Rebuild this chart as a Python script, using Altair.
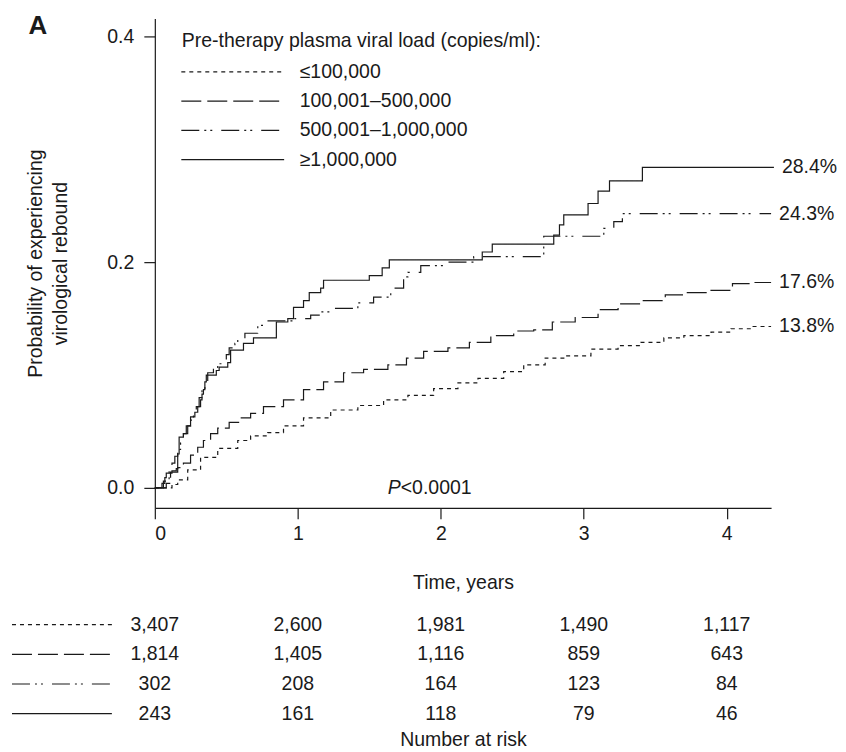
import altair as alt
import pandas as pd

# ---------------- data ----------------
groups = ["≤100,000", "100,001–500,000", "500,001–1,000,000", "≥1,000,000"]
dash_patterns = [[4, 4], [20, 6], [18, 5, 2, 4, 2, 9], [1, 0]]

t_le100k = [0, 0.12, 0.16, 0.23, 0.32, 0.44, 0.58, 0.67, 0.79, 0.90, 1.04, 1.23, 1.42, 1.60, 1.77,
            1.95, 2.12, 2.26, 2.44, 2.58, 2.73, 2.87, 3.05, 3.24, 3.40, 3.56, 3.70, 3.89, 4.03, 4.17, 4.31]
p_le100k = [0, 0.003, 0.007, 0.016, 0.027, 0.035, 0.042, 0.046, 0.049, 0.055, 0.062, 0.069, 0.073, 0.078, 0.082,
            0.088, 0.093, 0.097, 0.103, 0.109, 0.115, 0.117, 0.123, 0.126, 0.129, 0.133, 0.135, 0.138, 0.141, 0.143, 0.143]

t_100_500 = [0, 0.08, 0.11, 0.16, 0.20, 0.25, 0.30, 0.34, 0.39, 0.44, 0.52, 0.60, 0.67, 0.76, 0.90, 1.04,
             1.18, 1.32, 1.46, 1.63, 1.76, 1.88, 2.05, 2.20, 2.35, 2.51, 2.65, 2.78, 2.94, 3.10, 3.24,
             3.40, 3.57, 3.70, 3.87, 4.04, 4.18, 4.31]
p_100_500 = [0, 0.004, 0.014, 0.018, 0.022, 0.029, 0.036, 0.042, 0.048, 0.053, 0.058, 0.062, 0.066, 0.072, 0.078, 0.087,
             0.094, 0.102, 0.105, 0.109, 0.115, 0.121, 0.124, 0.129, 0.135, 0.139, 0.140, 0.147, 0.151, 0.158, 0.163,
             0.166, 0.171, 0.173, 0.175, 0.181, 0.182, 0.182]

t_500_1m = [0, 0.06, 0.10, 0.12, 0.14, 0.16, 0.18, 0.20, 0.22, 0.25, 0.27, 0.29, 0.31, 0.33, 0.35, 0.37,
            0.41, 0.44, 0.50, 0.52, 0.56, 0.58, 0.63, 0.72, 0.78, 0.98, 1.09, 1.16, 1.25, 1.42, 1.53,
            1.65, 1.74, 1.77, 1.86, 2.02, 2.23, 2.72, 3.14, 3.21, 3.27, 4.31]
p_500_1m = [0, 0.006, 0.015, 0.022, 0.028, 0.034, 0.040, 0.048, 0.055, 0.060, 0.065, 0.072, 0.080, 0.086, 0.092, 0.102,
            0.106, 0.110, 0.118, 0.124, 0.128, 0.131, 0.137, 0.144, 0.148, 0.150, 0.153, 0.156, 0.159, 0.164, 0.169,
            0.177, 0.187, 0.191, 0.197, 0.200, 0.205, 0.223, 0.230, 0.236, 0.243, 0.243]

t_ge1m = [0, 0.05, 0.07, 0.08, 0.12, 0.15, 0.16, 0.17, 0.20, 0.23, 0.25, 0.28, 0.30, 0.32, 0.33, 0.34, 0.35,
          0.36, 0.43, 0.45, 0.51, 0.53, 0.62, 0.69, 0.85, 0.93, 0.97, 1.04, 1.08, 1.16, 1.18, 1.50, 1.59,
          1.64, 2.29, 2.36, 2.79, 2.83, 2.86, 3.03, 3.10, 3.18, 3.41, 4.33]
p_ge1m = [0, 0.004, 0.009, 0.013, 0.015, 0.017, 0.030, 0.045, 0.048, 0.055, 0.063, 0.067, 0.072, 0.078, 0.083, 0.087, 0.094,
          0.100, 0.104, 0.107, 0.111, 0.122, 0.128, 0.133, 0.147, 0.150, 0.160, 0.166, 0.173, 0.177, 0.184, 0.188, 0.195,
          0.202, 0.209, 0.216, 0.224, 0.233, 0.242, 0.252, 0.263, 0.272, 0.284, 0.284]

end_labels = ["13.8%", "17.6%", "24.3%", "28.4%"]

risk_times = [0, 1, 2, 3, 4]
risk_le100k = [3407, 2600, 1981, 1490, 1117]
risk_100_500 = [1814, 1405, 1116, 859, 643]
risk_500_1m = [302, 208, 164, 123, 84]
risk_ge1m = [243, 161, 118, 79, 46]

p_value_pos = [1.72, 0.0]   # (time, probability) where the P-value annotation sits
x_ticks = [0, 1, 2, 3, 4]
y_ticks = [0.0, 0.2, 0.4]
x_domain = [0, 4.31]
y_domain = [-0.0177, 0.416]

# ---------------- tables ----------------
series = [(t_le100k, p_le100k), (t_100_500, p_100_500), (t_500_1m, p_500_1m), (t_ge1m, p_ge1m)]
rows = []
for g, (ts, ps) in zip(groups, series):
    for t, p in zip(ts, ps):
        rows.append({"group": g, "t": t, "p": p})
curves = pd.DataFrame(rows)

ends = pd.DataFrame([{"group": g, "t": ts[-1], "p": ps[-1], "label": lab}
                     for g, (ts, ps), lab in zip(groups, series, end_labels)])

risk_rows = []
for g, ns in zip(groups, [risk_le100k, risk_100_500, risk_500_1m, risk_ge1m]):
    for t, n in zip(risk_times, ns):
        risk_rows.append({"group": g, "t": t, "n": n})
risk = pd.DataFrame(risk_rows)

ptxt = pd.DataFrame([{"t": p_value_pos[0], "p": p_value_pos[1]}])
panel = pd.DataFrame([{"label": "A"}])

INK = "#1a1a1a"
FONT = "Liberation Sans"
FS = 19.5
W, H = 617, 490

xscale = alt.Scale(domain=x_domain, nice=False, zero=False)
yscale = alt.Scale(domain=y_domain, nice=False, zero=False)
dash_scale = alt.Scale(domain=groups, range=dash_patterns)

legend = alt.Legend(
    orient="none", legendX=27, legendY=14, padding=0,
    title="Pre-therapy plasma viral load (copies/ml):",
    titleFontSize=FS, titleFontWeight="normal", titleColor=INK, titleLimit=800, titlePadding=9,
    labelFontSize=FS, labelColor=INK, labelLimit=400,
    symbolType="M-5,0H5", symbolSize=424, symbolStrokeWidth=1.2, symbolStrokeColor=INK,
    symbolFillColor="transparent", symbolOffset=40, labelOffset=56, rowPadding=8.3,
)

base = alt.Chart(curves)
lines = base.mark_line(interpolate="step-after", color=INK, strokeWidth=1.2).encode(
    x=alt.X("t:Q", scale=xscale,
            axis=alt.Axis(values=x_ticks, format="d", title="Time, years", tickSize=11,
                          labelPadding=6, titlePadding=30, grid=False)),
    y=alt.Y("p:Q", scale=yscale,
            axis=alt.Axis(values=y_ticks, format=".1f",
                          title=["Probability of experiencing", "virological rebound"],
                          tickSize=11, labelPadding=10, titlePadding=36, titleLineHeight=25, grid=False)),
    strokeDash=alt.StrokeDash("group:N", scale=dash_scale, legend=legend),
    detail="group:N",
)

end_text = alt.Chart(ends).mark_text(align="left", baseline="middle", dx=8, fontSize=FS, color=INK).encode(
    x=alt.X("t:Q", scale=xscale), y=alt.Y("p:Q", scale=yscale), text="label:N")

p_italic = alt.Chart(ptxt).mark_text(text="P", fontStyle="italic", align="right", baseline="middle",
                                     fontSize=FS, color=INK).encode(
    x=alt.X("t:Q", scale=xscale), y=alt.Y("p:Q", scale=yscale))
p_rest = alt.Chart(ptxt).mark_text(text="<0.0001", align="left", baseline="middle",
                                   fontSize=FS, color=INK).encode(
    x=alt.X("t:Q", scale=xscale), y=alt.Y("p:Q", scale=yscale))

panel_text = alt.Chart(panel).mark_text(fontSize=26, fontWeight="bold", align="center", baseline="middle",
                                        color=INK).encode(
    x=alt.value(-117), y=alt.value(8), text="label:N")

main = alt.layer(lines, end_text, p_italic, p_rest, panel_text).properties(width=W, height=H)

# ---------------- risk table ----------------
ry = alt.Y("group:N", scale=alt.Scale(type="point", domain=groups, padding=0.5), axis=None)
risk_text = alt.Chart(risk).mark_text(fontSize=FS, color=INK, baseline="middle").encode(
    x=alt.X("t:Q", scale=xscale,
            axis=alt.Axis(title="Number at risk", labels=False, ticks=False, domain=False,
                          titlePadding=2, grid=False)),
    y=ry,
    text=alt.Text("n:Q", format=","),
)
risk_lines = alt.Chart(pd.DataFrame({"group": groups})).mark_rule(color=INK, strokeWidth=1.2).encode(
    x=alt.value(-143), x2=alt.value(-43), y=ry,
    strokeDash=alt.StrokeDash("group:N", scale=dash_scale, legend=None),
)
risk_chart = alt.layer(risk_lines, risk_text).properties(width=W, height=119)

chart = alt.vconcat(main, risk_chart, spacing=18).resolve_scale(
    strokeDash="independent").resolve_legend(strokeDash="independent").properties(
    padding={"left": 3, "top": 5, "right": 0, "bottom": 0}
).configure(font=FONT).configure_view(stroke=None).configure_axis(
    labelFontSize=FS, titleFontSize=FS, labelColor=INK, titleColor=INK, domainColor=INK, tickColor=INK,
    titleFontWeight="normal", labelFont=FONT, titleFont=FONT, domainWidth=1.2, tickWidth=1.2,
)

chart.save("out.html", embed_options={"renderer": "svg", "actions": False})
